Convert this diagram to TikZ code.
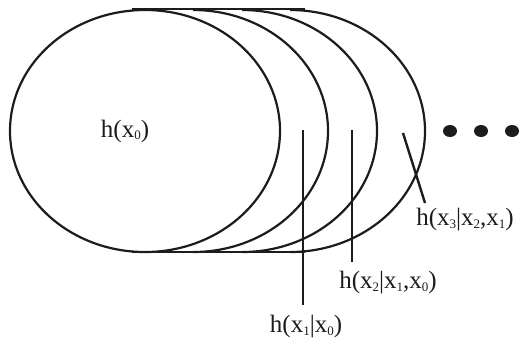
\documentclass[tikz,border=0pt]{standalone}
\usepackage{fontspec}
\setmainfont{Liberation Serif}
\usepackage{tikz}
\usetikzlibrary{positioning}
\definecolor{hdark}{RGB}{28,28,28}
\newcommand{\sub}[1]{\raisebox{-0.25ex}{\fontsize{6.5}{7}\selectfont #1}}

\begin{document}
\begin{tikzpicture}[x=0.5pt,y=-0.5pt,
  label/.style={font=\fontsize{12.5}{14}\selectfont, text=hdark, inner sep=0pt},
  rim/.style={hdark, line width=1.1pt},
  leader/.style={hdark, line width=1.2pt}]
\useasboundingbox (0,0) rectangle (522,344);
\pgfmathsetmacro{\rx}{135}
\pgfmathsetmacro{\ry}{121}
% entropy ellipses
\draw[rim] (145,131) ellipse [x radius=\rx, y radius=\ry];
\foreach \cx in {193,242,290}
  \draw[rim] (\cx,10) arc[start angle=-90, end angle=90, x radius=\rx, y radius=\ry];
\draw[rim] (132,9) -- (305,9);
\draw[rim] (132,252) -- (305,252);
% dots
\foreach \dx in {450,481,512}
  \fill[hdark] (\dx,131) ellipse [x radius=7, y radius=6];
% labels
\node[label] (h0) at (125,131) {h(x\sub{0})};
\node[label] (h1) at (306,327) {h(x\sub{1}|x\sub{0})};
\node[label] (h2) at (388,283) {h(x\sub{2}|x\sub{1},x\sub{0})};
\node[label] (h3) at (465,220) {h(x\sub{3}|x\sub{2},x\sub{1})};
\coordinate (t1) at (303,130);
\coordinate (b1) at (303,305);
\coordinate (t2) at (352,130);
\coordinate (b2) at (352,262);
\coordinate (t3) at (403,133);
\coordinate (b3) at (425,203);
\draw[leader] (t1) -- (b1);
\draw[leader] (t2) -- (b2);
\draw[leader] (t3) -- (b3);
\end{tikzpicture}
\end{document}
